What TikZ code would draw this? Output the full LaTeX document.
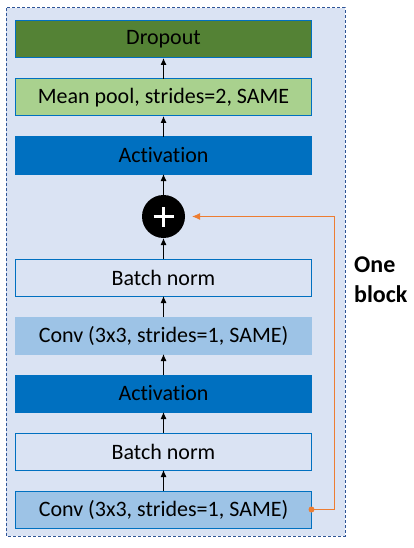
\documentclass[tikz,border=0pt]{standalone}
\usepackage{fontspec}
\setmainfont{Carlito}[Ligatures=NoCommon,RawFeature=-liga]
\usepackage{tikz}
\usetikzlibrary{arrows.meta,positioning}
\definecolor{blockbg}{HTML}{DAE3F3}
\definecolor{framec}{HTML}{2F5597}
\definecolor{edge}{HTML}{0070C0}
\definecolor{dropg}{HTML}{548235}
\definecolor{poolg}{HTML}{A9D18E}
\definecolor{convb}{HTML}{9DC3E6}
\definecolor{skipc}{HTML}{ED7D31}
\tikzset{
  layer/.style={draw=edge,line width=1pt,fill=blockbg,inner sep=0pt,outer sep=0pt,
    minimum width=296pt,minimum height=37pt,font=\fontsize{22}{26}\selectfont},
  ldrop/.style={layer,fill=dropg},
  lpool/.style={layer,fill=poolg},
  lact/.style={layer,fill=edge},
  lconv/.style={layer,fill=convb},
  lconvplain/.style={lconv,draw=convb},          % upper conv has no rim
  sumnode/.style={circle,fill=black,minimum size=43pt,inner sep=0pt,outer sep=0pt,
    path picture={\draw[white,line width=3.3pt]
      ([xshift=-10pt]path picture bounding box.center)--([xshift=10pt]path picture bounding box.center)
      ([yshift=-10pt]path picture bounding box.center)--([yshift=10pt]path picture bounding box.center);}},
  flow/.style={-{Latex[length=7pt,width=6pt]},line width=1pt,draw=black},
  skip/.style={-{Latex[length=8pt,width=7pt]},line width=1pt,draw=skipc},
  blockframe/.style={draw=framec,line width=1pt,dash pattern=on 3pt off 2pt,fill=blockbg},
  blocklab/.style={font=\bfseries\fontsize{24}{30}\selectfont,align=left,inner sep=0pt},
}
\begin{document}
\begin{tikzpicture}[x=1pt,y=-1pt,node distance=21pt]
  \useasboundingbox (0,0) rectangle (414,548);
  \draw[blockframe] (6,8) rectangle (345,536);
  \node[ldrop](drop) at (163.5,39.5){Dropout};
  \node[lpool,below=of drop](pool){Mean pool, strides=2, SAME};
  \node[lact,below=of pool](act2){Activation};
  \node[sumnode,below=of act2](plus){};
  \node[layer,below=of plus](bn2){Batch norm};
  \node[lconvplain,below=of bn2](conv2){Conv (3x3, strides=1, SAME)};
  \node[lact,below=of conv2](act1){Activation};
  \node[layer,below=of act1](bn1){Batch norm};
  \node[lconv,below=of bn1](conv1){Conv (3x3, strides=1, SAME)};
  \foreach \x/\y in {conv1/bn1,bn1/act1,act1/conv2,conv2/bn2,bn2/plus,plus/act2,act2/pool,pool/drop}
    \draw[flow](\x)--(\y);
  % shortcut round the block
  \fill[skipc](conv1.east) circle (3pt);
  \draw[skip](conv1.east)--++(23,0)|-([xshift=7pt]plus.east);
  \node[blocklab,anchor=north west](lab) at (354,257){One\\block};
\end{tikzpicture}
\end{document}
